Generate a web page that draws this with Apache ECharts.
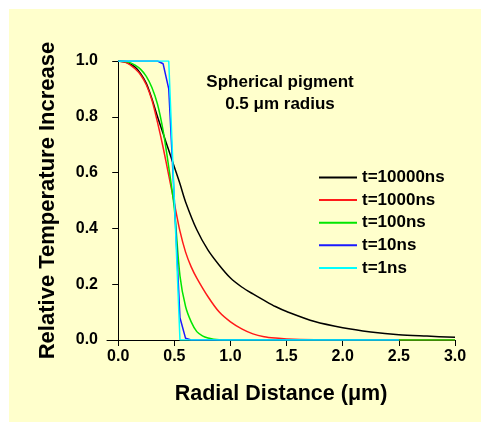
<!DOCTYPE html>
<html>
<head>
<meta charset="utf-8">
<script src="https://cdn.jsdelivr.net/npm/echarts@6/dist/echarts.min.js"></script>
<style>
    body { margin: 0; background: #fff; }
    .paper { position: absolute; left: 9px; top: 9px; width: 472px; height: 413px; background: #ffffcc; }
    #chart { position: absolute; left: 0; top: 0; width: 481px; height: 422px; }
</style>
</head>
<body>
<div class="paper"></div>
<div id="chart"></div>
<script>
    // 数据
    let seriesNames = ['t=10000ns', 't=1000ns', 't=100ns', 't=10ns', 't=1ns'];
    let seriesColors = ['#000000', '#ff1a1a', '#00e600', '#1a1aff', '#00ffff'];
    let xTicks = [0, 0.5, 1.0, 1.5, 2.0, 2.5, 3.0];

    let x10000 = [0, 0.05, 0.1, 0.15, 0.2, 0.25, 0.3, 0.35, 0.4, 0.45, 0.5, 0.55, 0.6, 0.7, 0.8, 0.9, 1.0, 1.1, 1.2, 1.3, 1.4, 1.5, 1.75, 2.0, 2.25, 2.5, 2.75, 3.0];
    let y10000 = [1.0, 0.997, 0.99, 0.978, 0.955, 0.92, 0.865, 0.80, 0.74, 0.68, 0.62, 0.56, 0.495, 0.395, 0.322, 0.268, 0.222, 0.19, 0.165, 0.142, 0.12, 0.102, 0.066, 0.044, 0.029, 0.019, 0.014, 0.0095];

    let x1000 = [0, 0.05, 0.1, 0.15, 0.2, 0.25, 0.3, 0.35, 0.4, 0.45, 0.5, 0.55, 0.6, 0.65, 0.7, 0.8, 0.9, 1.0, 1.1, 1.2, 1.3, 1.4, 1.5, 1.75, 2.0, 3.0];
    let y1000 = [1.0, 0.997, 0.988, 0.972, 0.95, 0.915, 0.86, 0.78, 0.69, 0.59, 0.49, 0.39, 0.315, 0.262, 0.222, 0.155, 0.100, 0.065, 0.04, 0.022, 0.012, 0.007, 0.004, 0.001, 0, 0];

    let x100 = [0, 0.05, 0.1, 0.15, 0.2, 0.25, 0.3, 0.35, 0.4, 0.45, 0.5, 0.55, 0.6, 0.65, 0.7, 0.75, 0.8, 0.85, 0.9, 1.0, 3.0];
    let y100 = [1.0, 0.999, 0.995, 0.985, 0.97, 0.945, 0.905, 0.845, 0.75, 0.62, 0.47, 0.23, 0.12, 0.065, 0.03, 0.015, 0.007, 0.003, 0.001, 0, 0];

    let x10 = [0, 0.35, 0.4, 0.45, 0.5, 0.55, 0.6, 0.65, 2.5];
    let y10 = [1.0, 1.0, 0.99, 0.90, 0.5, 0.08, 0.006, 0, 0];

    let x1 = [0, 0.45, 0.5, 0.55, 2.5];
    let y1 = [1.0, 1.0, 0.5, 0, 0];

    let allX = [x10000, x1000, x100, x10, x1];
    let allY = [y10000, y1000, y100, y10, y1];

    let font = 'Liberation Sans, Arial, sans-serif';
    let myChart = echarts.init(document.getElementById('chart'));

    let series = seriesNames.map(function (name, i) {
        return {
            name: name,
            type: 'line',
            symbol: 'none',
            smooth: i < 3 ? 0.3 : false,
            lineStyle: { color: seriesColors[i], width: 1.5 },
            itemStyle: { color: seriesColors[i] },
            data: allX[i].map(function (x, j) { return [x, allY[i][j]]; })
        };
    });

    let option = {
        backgroundColor: 'transparent',
        animation: false,
        grid: { left: 107, top: 61, width: 348, height: 279 },
        legend: {
            orient: 'vertical',
            left: 314,
            top: 164,
            icon: 'rect',
            itemWidth: 38,
            itemHeight: 2,
            itemGap: 5.6,
            data: seriesNames,
            textStyle: { fontFamily: font, fontWeight: 'bold', fontSize: 17, lineHeight: 17, color: '#000' }
        },
        graphic: [
            {
                type: 'text',
                x: 280, y: 82,
                style: {
                    text: 'Spherical pigment',
                    font: 'bold 17px ' + font,
                    fill: '#000',
                    textAlign: 'center',
                    textVerticalAlign: 'middle'
                }
            },
            {
                type: 'text',
                x: 280, y: 104,
                style: {
                    text: '0.5 μm radius',
                    font: 'bold 17px ' + font,
                    fill: '#000',
                    textAlign: 'center',
                    textVerticalAlign: 'middle'
                }
            }
        ],
        xAxis: {
            type: 'value',
            min: -0.1,
            max: 3.0,
            name: 'Radial Distance (μm)',
            nameLocation: 'middle',
            nameGap: 43,
            nameTextStyle: { fontFamily: font, fontWeight: 'bold', fontSize: 21.5, color: '#000' },
            splitLine: { show: false },
            axisLine: { onZero: false, lineStyle: { color: '#000', width: 1 } },
            axisTick: { show: true, length: 6, customValues: xTicks, lineStyle: { color: '#000' } },
            axisLabel: {
                customValues: xTicks,
                margin: 9,
                fontFamily: font, fontWeight: 'bold', fontSize: 16, color: '#000',
                formatter: function (v) { return v.toFixed(1); }
            }
        },
        yAxis: {
            type: 'value',
            min: 0,
            max: 1,
            interval: 0.2,
            name: 'Relative Temperature Increase',
            nameLocation: 'middle',
            nameGap: 48,
            nameTextStyle: { fontFamily: font, fontWeight: 'bold', fontSize: 22, color: '#000' },
            splitLine: { show: false },
            axisLine: { show: true, lineStyle: { color: '#000', width: 1 } },
            axisTick: { show: true, length: 6, lineStyle: { color: '#000' } },
            axisLabel: {
                margin: 9,
                fontFamily: font, fontWeight: 'bold', fontSize: 16, color: '#000',
                formatter: function (v) { return v.toFixed(1); }
            }
        },
        series: series
    };

    myChart.setOption(option);
</script>
</body>
</html>
